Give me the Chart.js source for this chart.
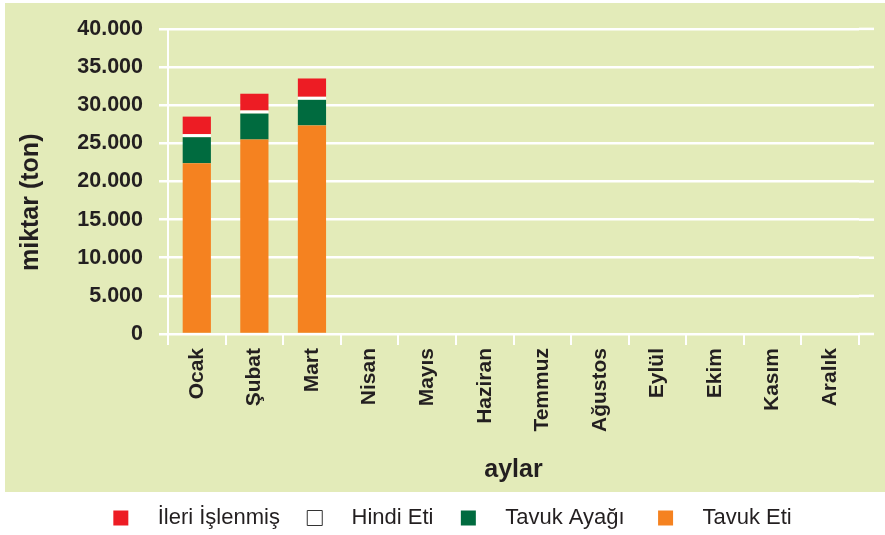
<!DOCTYPE html>
<html>
<head>
<meta charset="utf-8">
<script src="https://cdn.jsdelivr.net/npm/chart.js@4"></script>
<style>
  body { margin: 0; background: #fff; }
  #wrap { width: 885px; height: 535px; }
</style>
</head>
<body>
<div id="wrap"><canvas id="myChart"></canvas></div>
<script>
// Months and series values (ton)
const months = ['Ocak', 'Şubat', 'Mart', 'Nisan', 'Mayıs', 'Haziran', 'Temmuz', 'Ağustos', 'Eylül', 'Ekim', 'Kasım', 'Aralık'];
const tavukEti = [22400, 25500, 27350, null, null, null, null, null, null, null, null, null];
const tavukAyagi = [3400, 3400, 3350, null, null, null, null, null, null, null, null, null];
const hindiEti = [400, 400, 400, null, null, null, null, null, null, null, null, null];
const ileriIslenmis = [2300, 2200, 2400, null, null, null, null, null, null, null, null, null];

const PANEL = '#e3ebb9';
const TEXT = '#231f20';

Chart.defaults.font.family = '"Liberation Sans", Arial, sans-serif';
Chart.defaults.color = TEXT;

// Green panel behind everything + y grid lines extending past the plot
const panelPlugin = {
    id: 'panel',
    afterLayout(chart) {
        // legend sits a bit right of / below the plot centre
        const lg = chart.legend;
        lg.left += 23; lg.right += 23;
        lg.top += 4; lg.bottom += 4;
    },
    beforeDraw(chart) {
        const ctx = chart.ctx;
        ctx.save();
        ctx.fillStyle = PANEL;
        ctx.fillRect(5, 3, 880, 489);
        ctx.restore();
    },
    beforeDatasetsDraw(chart) {
        const ctx = chart.ctx;
        const y = chart.scales.y;
        const right = chart.chartArea.right;
        ctx.save();
        ctx.strokeStyle = '#ffffff';
        ctx.lineWidth = 2.5;
        y.ticks.forEach(t => {
            const py = y.getPixelForValue(t.value);
            ctx.beginPath();
            ctx.moveTo(right, py);
            ctx.lineTo(right + 15, py);
            ctx.stroke();
        });
        ctx.restore();
    }
};

const ctx = document.getElementById('myChart').getContext('2d');

const myChart = new Chart(ctx, {
    type: 'bar',
    data: {
        labels: months,
        datasets: [
            { label: 'Tavuk Eti', data: tavukEti, backgroundColor: '#f58220' },
            { label: 'Tavuk Ayağı', data: tavukAyagi, backgroundColor: '#006b3f' },
            { label: 'Hindi Eti', data: hindiEti, backgroundColor: '#ffffff' },
            { label: 'İleri İşlenmiş', data: ileriIslenmis, backgroundColor: '#ed1c24' }
        ]
    },
    options: {
        responsive: true,
        maintainAspectRatio: false,
        animation: false,
        datasets: {
            bar: { categoryPercentage: 1, barPercentage: 0.49, borderWidth: 0 }
        },
        layout: { padding: { left: 0, right: 26, top: 28, bottom: 0 } },
        scales: {
            x: {
                stacked: true,
                border: { color: '#ffffff', width: 2 },
                grid: { drawOnChartArea: false, drawTicks: true, tickLength: 11, color: '#ffffff', lineWidth: 2 },
                ticks: { minRotation: 90, maxRotation: 90, padding: 3, font: { size: 21, weight: 'bold' }, color: TEXT },
                title: { display: true, text: 'aylar', font: { size: 25, weight: 'bold' }, color: TEXT, padding: { top: 0, bottom: 9 } },
                afterFit(scale) { scale.height = 160; }
            },
            y: {
                stacked: true,
                min: 0,
                max: 40000,
                border: { color: '#ffffff', width: 2 },
                grid: { color: '#ffffff', lineWidth: 2.5, tickLength: 9 },
                ticks: {
                    stepSize: 5000,
                    padding: 16,
                    font: { size: 21.5, weight: 'bold' },
                    color: TEXT,
                    callback: v => v.toString().replace(/\B(?=(\d{3})+(?!\d))/g, '.')
                },
                title: { display: true, text: 'miktar (ton)      ', font: { size: 25, weight: 'bold' }, color: TEXT, padding: { top: 16, bottom: 0 } },
                afterFit(scale) { scale.width = 168; }
            }
        },
        plugins: {
            legend: {
                position: 'bottom',
                reverse: true,
                labels: {
                    boxWidth: 15,
                    boxHeight: 15,
                    padding: 9,
                    color: TEXT,
                    font: { size: 22 },
                    generateLabels(chart) {
                        const items = Chart.defaults.plugins.legend.labels.generateLabels(chart);
                        const tail = ['', '    ', '   ', '   '];
                        items.forEach(item => {
                            // extra room between box and text, and between items
                            item.text = '   ' + item.text + tail[item.datasetIndex];
                            if (item.datasetIndex === 2) {
                                item.strokeStyle = '#333333';
                                item.lineWidth = 1;
                            } else {
                                item.lineWidth = 0;
                            }
                        });
                        return items;
                    }
                }
            },
            tooltip: { enabled: false }
        }
    },
    plugins: [panelPlugin]
});
</script>
</body>
</html>
